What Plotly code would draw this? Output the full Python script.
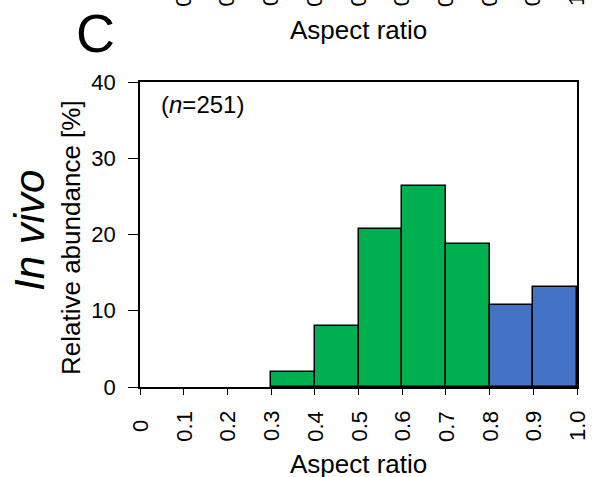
import plotly.graph_objects as go

# Aspect-ratio histogram (in vivo), relative abundance per 0.1 bin
bin_left = [0.0, 0.1, 0.2, 0.3, 0.4, 0.5, 0.6, 0.7, 0.8, 0.9]
abundance = [0.0, 0.0, 0.0, 2.0, 8.0, 20.7, 26.4, 18.8, 10.8, 13.1]
bin_group = ["g", "g", "g", "g", "g", "g", "g", "g", "b", "b"]
tick_vals = [0.0, 0.1, 0.2, 0.3, 0.4, 0.5, 0.6, 0.7, 0.8, 0.9, 1.0]
tick_text = ["0", "0.1", "0.2", "0.3", "0.4", "0.5", "0.6", "0.7", "0.8", "0.9", "1.0"]
y_ticks = [0, 10, 20, 30, 40]
n_cells = 251

GREEN = "#00B050"
BLUE = "#4472C4"
FONT = "Liberation Sans, Arial, sans-serif"

W, H = 593, 477
L, R, T, B = 140, 16, 82, 90
pw, ph = W - L - R, H - T - B


def py(y_px):
    """pixel row -> paper y"""
    return (H - B - y_px) / ph


def px(x_px):
    """pixel column -> paper x"""
    return (x_px - L) / pw


colors = [GREEN if g == "g" else BLUE for g in bin_group]
edge_w = [1.5 if v > 0 else 0 for v in abundance]
centers = [b + 0.05 for b in bin_left]

fig = go.Figure()
fig.add_trace(go.Bar(
    x=centers, y=abundance, width=0.1,
    marker=dict(color=colors, line=dict(color="black", width=edge_w)),
    showlegend=False, hoverinfo="skip",
))

fig.update_layout(
    width=W, height=H,
    margin=dict(l=L, r=R, t=T, b=B, pad=0),
    paper_bgcolor="white", plot_bgcolor="white",
    font=dict(family=FONT, color="black"),
    bargap=0,
    xaxis=dict(
        range=[0, 1], tickvals=tick_vals, showticklabels=False,
        ticks="outside", ticklen=6, tickwidth=1.3, tickcolor="black",
        showline=True, linecolor="black", linewidth=1.5, mirror=True,
        showgrid=False, zeroline=False,
    ),
    yaxis=dict(
        range=[0, 40], tickvals=y_ticks,
        ticks="outside", ticklen=10, tickwidth=1.3, tickcolor="black",
        tickfont=dict(size=22, family=FONT, color="black"),
        ticklabelstandoff=8,
        showline=True, linecolor="black", linewidth=1.5, mirror=True,
        showgrid=False, zeroline=False,
    ),
)


def label(x, y, text, size, angle=0, xref="paper", xanchor="center"):
    return dict(x=x, y=y, xref=xref, yref="paper", text=text,
                textangle=angle, showarrow=False, xanchor=xanchor,
                yanchor="middle", borderpad=0,
                font=dict(size=size, family=FONT, color="black"))


ann = []
# rotated x tick labels, centred below the axis
for v, t in zip(tick_vals, tick_text):
    ann.append(label(v, py(426), t, 22, -90, xref="x"))
# lower ends of the tick labels of the panel above, cut by the page top
for v, t in zip(tick_vals[1:], tick_text[1:]):
    ann.append(label(v, py(-9), t, 22, -90, xref="x"))

ann += [
    label(0.5, py(30), "Aspect ratio", 26),
    label(0.5, py(464), "Aspect ratio", 26),
    label(px(95), py(33), "C", 54),
    label(px(29), py(231), "<i>In vivo</i>", 42, -90),
    label(px(71), py(238), "Relative abundance [%]", 26, -90),
    label(px(160), py(104), f"(<i>n</i>={n_cells})", 24, xanchor="left"),
]
fig.update_layout(annotations=ann)

fig.write_html("out.html")
